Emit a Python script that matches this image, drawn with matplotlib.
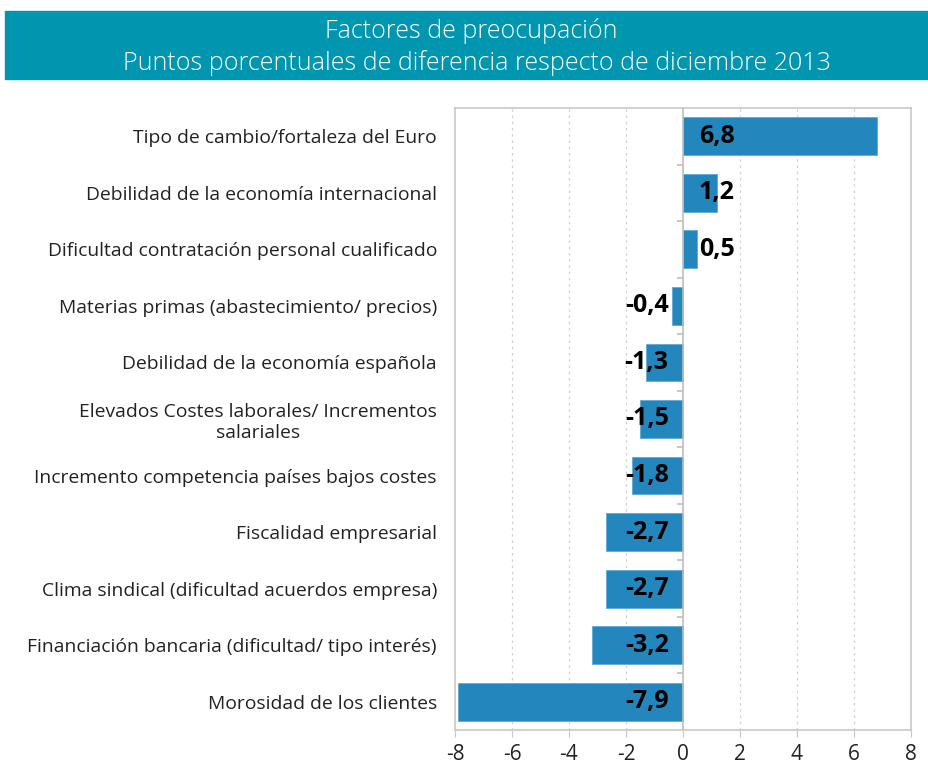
import numpy as np
import matplotlib.pyplot as plt
from matplotlib.patches import Rectangle

plt.rcParams['font.family'] = ['Open Sans', 'DejaVu Sans']

# datos
categorias = [
    'Tipo de cambio/fortaleza del Euro',
    'Debilidad de la economía internacional',
    'Dificultad contratación personal cualificado',
    'Materias primas (abastecimiento/ precios)',
    'Debilidad de la economía española',
    'Elevados Costes laborales/ Incrementos\nsalariales',
    'Incremento competencia países bajos costes',
    'Fiscalidad empresarial',
    'Clima sindical (dificultad acuerdos empresa)',
    'Financiación bancaria (dificultad/ tipo interés)',
    'Morosidad de los clientes',
]
valores = [6.8, 1.2, 0.5, -0.4, -1.3, -1.5, -1.8, -2.7, -2.7, -3.2, -7.9]
xticks = [-8, -6, -4, -2, 0, 2, 4, 6, 8]

azul = '#2387bd'
teal = '#0096b0'
gris = '#c8c8c8'

fig = plt.figure(figsize=(9.29, 7.65), dpi=100)

# banda del titulo
fig.patches.append(Rectangle((5 / 929, 1 - 79 / 765), 1, 68 / 765,
                             transform=fig.transFigure, color=teal, zorder=0))
fig.text(0.507, 1 - 31 / 765, 'Factores de preocupación', color='white',
         fontsize=18, ha='center', va='center', fontweight='light')
fig.text(0.513, 1 - 63 / 765,
         'Puntos porcentuales de diferencia respecto de diciembre 2013',
         color='white', fontsize=18, ha='center', va='center', fontweight='light')

ax = fig.add_axes([455 / 929, 1 - 730 / 765, (911 - 455) / 929, (730 - 108) / 765])

y = np.arange(len(categorias))
ax.barh(y, valores, height=0.67, color=azul, edgecolor='#5ea9d6', linewidth=0.6, zorder=3)

for yi, v in zip(y, valores):
    txt = f'{v:.1f}'.replace('.', ',')
    if v >= 0:
        ax.text(0.55, yi, txt, ha='left', va='center', fontsize=18,
                fontweight='bold', color='black', zorder=4)
    else:
        ax.text(-0.5, yi, txt, ha='right', va='center', fontsize=18,
                fontweight='bold', color='black', zorder=4)

ax.set_xlim(-8, 8)
ax.set_ylim(len(categorias) - 0.5, -0.5)
ax.set_xticks(xticks)
ax.set_xticklabels([str(t) for t in xticks], fontsize=15, color='#222222')
ax.set_yticks(y)
ax.set_yticklabels(categorias, fontsize=13.9, color='#222222', multialignment='center')
ax.tick_params(axis='y', length=0, pad=13)
ax.tick_params(axis='x', length=5, color=gris, pad=5)

# rejilla punteada
for t in xticks[1:-1]:
    if t != 0:
        ax.axvline(t, color='#d0d0d0', linestyle=(0, (2, 3)), linewidth=0.9, zorder=1)
ax.axvline(0, color='#bdbdbd', linewidth=1.2, zorder=5)
ax.hlines(np.arange(len(categorias) - 1) + 0.5, -0.2, 0, color='#bdbdbd', linewidth=1.2, zorder=5)

for s in ax.spines.values():
    s.set_color(gris)
    s.set_linewidth(1.2)

fig.savefig('out.png', dpi=100)
